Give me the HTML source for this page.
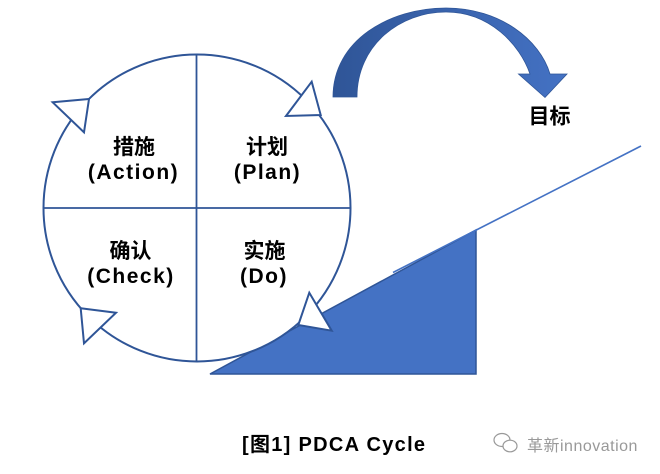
<!DOCTYPE html>
<html>
<head>
<meta charset="utf-8">
<style>
  html,body{margin:0;padding:0;background:#fff;}
  body{width:660px;height:474px;overflow:hidden;}
  svg{display:block;}
  .lbl{font-family:"Liberation Sans","Noto Sans CJK SC",sans-serif;font-weight:bold;font-size:21px;fill:#000;letter-spacing:1.5px;}
  .cjk{font-family:"Liberation Sans","Noto Sans CJK SC",sans-serif;font-weight:bold;font-size:21px;fill:#000;letter-spacing:0;}
</style>
</head>
<body>
<svg width="660" height="474" viewBox="0 0 660 474" xmlns="http://www.w3.org/2000/svg">
  <defs>
    <linearGradient id="g" x1="333" y1="0" x2="568" y2="0" gradientUnits="userSpaceOnUse">
      <stop offset="0" stop-color="#2f5597"/>
      <stop offset="1" stop-color="#4472c4"/>
    </linearGradient>
  </defs>

  <!-- slope triangle -->
  <polygon points="210,374 476,230 476,374" fill="#4472c4" stroke="#2f5597" stroke-width="1.5"/>
  <!-- thin line -->
  <line x1="393" y1="272.5" x2="641" y2="146" stroke="#4472c4" stroke-width="1.6"/>

  <!-- circle -->
  <circle cx="197" cy="208" r="153.5" fill="#fff" stroke="#2f5597" stroke-width="2"/>
  <line x1="196.5" y1="55" x2="196.5" y2="361" stroke="#2f5597" stroke-width="1.8"/>
  <line x1="44" y1="208" x2="350" y2="208" stroke="#2f5597" stroke-width="1.8"/>

  <!-- arrowheads -->
  <polygon points="52.7,102.3 89,99 84,132.3" fill="#fff" stroke="#2f5597" stroke-width="2"/>
  <polygon points="311.7,81.7 286,116 320.7,115" fill="#fff" stroke="#2f5597" stroke-width="2"/>
  <polygon points="80.7,308.3 116,312.7 84,343.3" fill="#fff" stroke="#2f5597" stroke-width="2"/>
  <polygon points="309.3,292.7 298.3,325 331.7,330.7" fill="#fff" stroke="#2f5597" stroke-width="2"/>

  <!-- big curved arrow -->
  <path d="M333,97 C333,40 390,8 446,8 C500,8 540,40 550,74 L567,74 L545,97.5 L518.5,74 L530,74 C520,45 490,12 446,12 C400,12 357,45 357,97 Z"
        fill="url(#g)" stroke="#2f5597" stroke-width="0.8"/>

  <!-- labels -->
  <text class="cjk" x="134" y="154" text-anchor="middle">措施</text>
  <text class="lbl" x="133.5" y="179" text-anchor="middle">(Action)</text>
  <text class="cjk" x="267" y="154" text-anchor="middle">计划</text>
  <text class="lbl" x="267.5" y="179" text-anchor="middle">(Plan)</text>
  <text class="cjk" x="130.5" y="258" text-anchor="middle">确认</text>
  <text class="lbl" x="131" y="283" text-anchor="middle">(Check)</text>
  <text class="cjk" x="264.5" y="258" text-anchor="middle">实施</text>
  <text class="lbl" x="264" y="283" text-anchor="middle">(Do)</text>

  <text class="cjk" x="549.5" y="123.5" text-anchor="middle">目标</text>

  <!-- caption -->
  <text x="242" y="451" style="font-family:'Liberation Sans','Noto Sans CJK SC',sans-serif;font-weight:bold;font-size:20px;letter-spacing:1.3px;fill:#000;">[图1] PDCA Cycle</text>

  <!-- watermark -->
  <g fill="none" stroke="#999" stroke-width="1.2">
    <ellipse cx="502" cy="440" rx="8" ry="6.5"/>
    <ellipse cx="510" cy="446" rx="7" ry="5.8" fill="#fff"/>
  </g>
  <text x="527" y="451" style="font-family:'Liberation Sans','Noto Sans CJK SC',sans-serif;font-size:16px;letter-spacing:0.5px;fill:#999;">革新innovation</text>
</svg>
</body>
</html>
